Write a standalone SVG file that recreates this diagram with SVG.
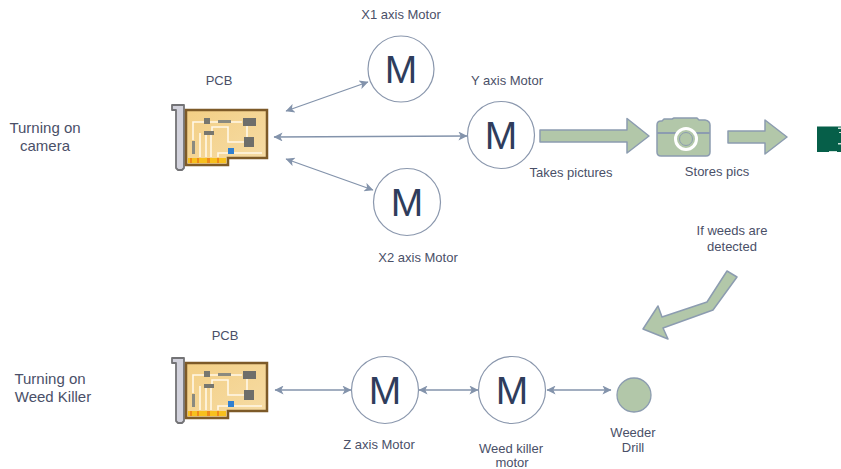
<svg xmlns="http://www.w3.org/2000/svg" width="841" height="469" viewBox="0 0 841 469">
<style>
text{font-family:"Liberation Sans",Arial,sans-serif;font-size:13px;fill:#4a5068;text-anchor:middle}
.big{font-size:15px}
.m{font-size:39px;fill:#2f3d5c}
.mc{fill:#fff;stroke:#8a97ad;stroke-width:1.2}
.c{fill:none;stroke:#8393ab;stroke-width:1.3;marker-start:url(#h);marker-end:url(#h)}
.g{fill:#b2c7a9;stroke:#8c9cb0;stroke-width:1.5;stroke-linejoin:round}
</style>
<defs>
<marker id="h" viewBox="0 0 10 10" refX="9.500" refY="5" markerWidth="11" markerHeight="9" markerUnits="userSpaceOnUse" orient="auto-start-reverse"><path d="M0 0L10 5L0 10L2.500 5Z" fill="#8393ab"/></marker>
<linearGradient id="board" x1="0" y1="0" x2="1" y2="1"><stop offset="0" stop-color="#f3cf85"/><stop offset="1" stop-color="#f6dca6"/></linearGradient>
<g id="pcb">
<path d="M172 105H184V168L182 170H178L176 168V110H172Z" fill="#d2d2dc" stroke="#737376" stroke-width="1.800" stroke-linejoin="round"/>
<path d="M186 110H267V158H228V165H186Z" fill="url(#board)" stroke="#7d5a28" stroke-width="2.500"/>
<path d="M188 158H226V163H188Z" fill="#f7c01e"/>
<path d="M190 158h2v5h-2zM197 158h2v5h-2zM207 158h3v5h-3zM217 158h2v5h-2z" fill="#ee8a1a"/>
<path d="M193 140V122H242M247 122V137M244 142H228V127H212V131M200 133V157M206 135V157M211 135V157M218 157V153H262" fill="none" stroke="#fff8e8" stroke-width="1.600"/>
<rect x="204" y="118" width="6" height="6" fill="#77776f"/><rect x="218" y="120" width="13" height="3" fill="#8a8a80"/>
<rect x="243" y="118" width="13" height="8" fill="#6e6e6a"/><rect x="244" y="137" width="10" height="10" fill="#6e6e6a"/>
<rect x="204" y="131" width="10" height="4" fill="#77776f"/><rect x="192" y="141" width="3" height="13" fill="#8a8a80"/>
<rect x="228" y="148" width="6" height="6" fill="#2f7fd0"/>
</g>
</defs>
<g id="connectors">
<path class="c" d="M286 111L368 82"/>
<path class="c" d="M274 137L467 136"/>
<path class="c" d="M286 159L373 190"/>
<path class="c" d="M275 390L351 390"/>
<path class="c" d="M419 390L478 390"/>
<path class="c" d="M547 390L611 390"/>
</g>
<g id="arrow1"><path class="g" d="M540 130H627V118.500L649 136L627 153V142H540Z"/></g>
<g id="arrow2"><path class="g" d="M728 131H765V120L787 137L765 154V143H728Z"/></g>
<g id="arrow3"><path class="g" d="M727 271L737 277L713 310L663 328L668 339L643 329L658 306L662 317L707 302Z"/></g>
<g id="pcb1"><use href="#pcb"/><text x="219" y="85">PCB</text></g>
<g id="pcb2"><use href="#pcb" y="253"/><text x="225" y="340">PCB</text></g>
<g id="x1"><circle class="mc" cx="401" cy="69" r="33"/><text class="m" x="401" y="83">M</text><text x="401" y="19">X1 axis Motor</text></g>
<g id="y"><circle class="mc" cx="501" cy="135" r="33.500"/><text class="m" x="501" y="149">M</text><text x="507" y="85">Y axis Motor</text></g>
<g id="x2"><circle class="mc" cx="407" cy="202" r="33.500"/><text class="m" x="407" y="216">M</text><text x="418" y="262">X2 axis Motor</text></g>
<g id="z"><circle class="mc" cx="385" cy="390" r="33.500"/><text class="m" x="385" y="404">M</text><text x="379" y="449">Z axis Motor</text></g>
<g id="wk"><circle class="mc" cx="512" cy="390" r="33.500"/><text class="m" x="512" y="404">M</text><text x="511" y="453">Weed killer</text><text x="512" y="467">motor</text></g>
<g id="drill"><circle cx="634" cy="395" r="17" fill="#b2c7a9" stroke="#8c9cb0" stroke-width="1.300"/><text x="633" y="437">Weeder</text><text x="633" y="452">Drill</text></g>
<g id="camera">
<path class="g" d="M657 125Q657 121 661 121H662L664 119H672L674 118H697L699 120H705Q710 121 710 125V152Q710 156 706 156H661Q657 156 657 152Z"/>
<path d="M657 133H710" stroke="#8c9cb0" stroke-width="2"/>
<circle cx="686" cy="139" r="10.500" fill="#b2c7a9" stroke="#fff" stroke-width="3"/>
<circle cx="686" cy="139" r="6.500" fill="none" stroke="#8c9cb0" stroke-width="1"/>
</g>
<g id="sheet"><rect x="817" y="126.500" width="24" height="25.500" fill="#065f49"/><path d="M838 127.500h3v1.500h-3zM839 132h2v1h-2zM838 143h3v1.500h-3zM829 151h8v1h-8z" fill="#cfe3dc"/></g>
<g id="labels">
<text class="big" x="45" y="133">Turning on</text><text class="big" x="45" y="151">camera</text>
<text class="big" x="50" y="384">Turning on</text><text class="big" x="53" y="402">Weed Killer</text>
<text x="571" y="177">Takes pictures</text>
<text x="717" y="176">Stores pics</text>
<text x="732" y="235">If weeds are</text><text x="732" y="251">detected</text>
</g>
</svg>
